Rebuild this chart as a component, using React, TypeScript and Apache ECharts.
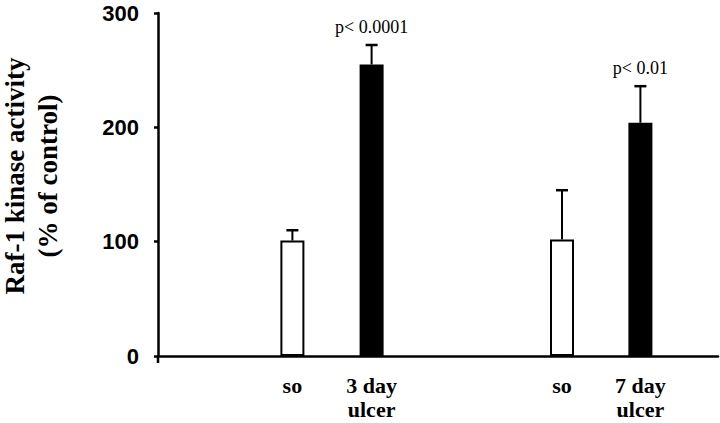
import React, { useEffect, useRef } from "react";
import * as echarts from "echarts";

// ---- data ----
const categories = ["so", "3 day\nulcer", "so", "7 day\nulcer"];
const xPositions = [1.68, 2.67, 5.05, 6.03];
const means = [101, 255, 102, 204];
const errors = [9, 17, 43, 32];
const pLabels = ["", "p< 0.0001", "", "p< 0.01"];
const barColors = ["#ffffff", "#000000", "#ffffff", "#000000"];
const yMin = 0;
const yMax = 300;
const yInterval = 100;
const xMin = 0;
const xMax = 7;
const yTitle = "Raf-1 kinase activity\n(% of control)";

const SERIF = "Liberation Serif, Times New Roman, serif";
const SANS = "Liberation Sans, Arial, sans-serif";

export default function App() {
  const ref = useRef<HTMLDivElement | null>(null);

  useEffect(() => {
    if (!ref.current) return;
    const chart = echarts.init(ref.current, null, { renderer: "svg" });

    const barData = xPositions.map((x, i) => ({
      value: [x, means[i]],
      itemStyle: { color: barColors[i], borderColor: "#000", borderWidth: 2 },
    }));
    const errData = xPositions.map((x, i) => [x, means[i], errors[i], i]);

    const titleGraphic = {
      id: "ytitle",
      type: "text",
      x: 31.5,
      y: 176,
      rotation: Math.PI / 2,
      style: {
        text: yTitle,
        fill: "#000",
        fontFamily: SERIF,
        fontWeight: "bold",
        fontSize: 27,
        align: "center",
        verticalAlign: "middle",
        lineHeight: 33,
      },
    };

    const option: any = {
      animation: false,
      backgroundColor: "#ffffff",
      grid: { left: 158, right: 2, top: 13, bottom: 67, containLabel: false },
      xAxis: {
        type: "value",
        min: xMin,
        max: xMax,
        axisLine: { show: true, onZero: false, lineStyle: { color: "#000", width: 2.5 } },
        axisTick: { show: false },
        axisLabel: { show: false },
        splitLine: { show: false },
      },
      yAxis: {
        type: "value",
        min: yMin,
        max: yMax,
        interval: yInterval,
        axisLine: { show: true, lineStyle: { color: "#000", width: 2.5 } },
        axisTick: { show: true, length: 4, lineStyle: { color: "#000", width: 2.5 } },
        axisLabel: {
          color: "#000",
          fontFamily: SANS,
          fontWeight: "bold",
          fontSize: 22,
          margin: 19,
        },
        splitLine: { show: false },
      },
      graphic: [titleGraphic],
      series: [
        {
          type: "bar",
          data: barData,
          barWidth: 24,
          z: 2,
        },
        {
          type: "custom",
          clip: false,
          z: 3,
          data: errData,
          renderItem: (params: any, api: any) => {
            const x = api.value(0);
            const y = api.value(1);
            const e = api.value(2);
            const i = api.value(3);
            const top = api.coord([x, y]);
            const cap = api.coord([x, y + e]);
            const base = api.coord([x, 0]);
            return {
              type: "group",
              children: [
                {
                  type: "line",
                  shape: { x1: top[0], y1: top[1], x2: cap[0], y2: cap[1] },
                  style: { stroke: "#000", lineWidth: 2 },
                },
                {
                  type: "line",
                  shape: { x1: cap[0] - 6, y1: cap[1], x2: cap[0] + 6, y2: cap[1] },
                  style: { stroke: "#000", lineWidth: 2.5 },
                },
                {
                  type: "text",
                  x: cap[0],
                  y: cap[1] - 18,
                  style: {
                    text: pLabels[i],
                    fill: "#000",
                    fontFamily: SERIF,
                    fontSize: 18,
                    align: "center",
                    verticalAlign: "middle",
                  },
                },
                {
                  type: "text",
                  x: base[0],
                  y: base[1] + 17,
                  style: {
                    text: categories[i],
                    fill: "#000",
                    fontFamily: SERIF,
                    fontWeight: "bold",
                    fontSize: 22,
                    align: "center",
                    verticalAlign: "top",
                    lineHeight: 24,
                  },
                },
              ],
            };
          },
        },
      ],
    };

    chart.setOption(option);

    // small stub of the y axis extending below the origin, as in the reference
    const origin = chart.convertToPixel({ gridIndex: 0 }, [xMin, yMin]) as number[];
    if (origin) {
      chart.setOption({
        graphic: [
          titleGraphic,
          {
            id: "ystub",
            type: "line",
            shape: { x1: origin[0], y1: origin[1], x2: origin[0], y2: origin[1] + 7 },
            style: { stroke: "#000", lineWidth: 2.5 },
          },
        ],
      });
    }

    return () => {
      chart.dispose();
    };
  }, []);

  return (
    <div
      ref={ref}
      style={{ position: "fixed", left: 0, top: 0, width: 720, height: 423, background: "#fff" }}
    />
  );
}
